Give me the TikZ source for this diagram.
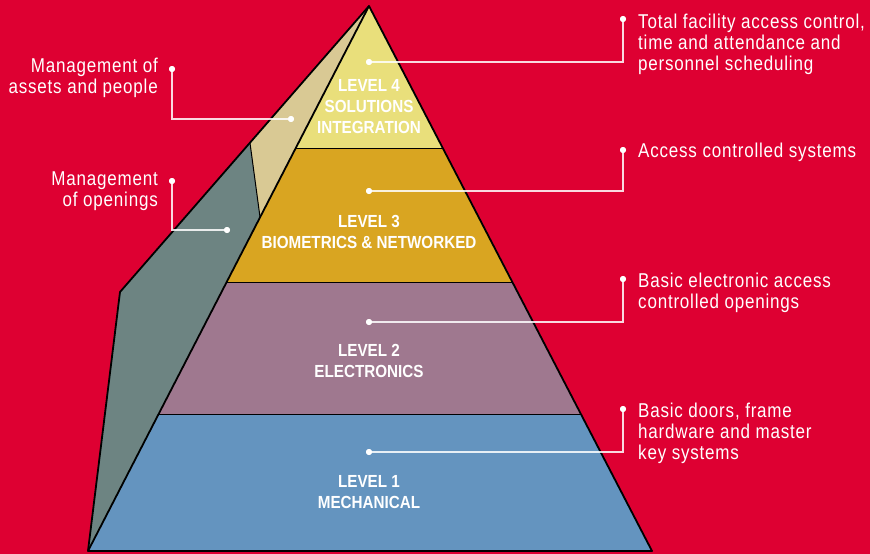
\documentclass[tikz,border=0pt]{standalone}
\usepackage{fontspec}
\setmainfont{Liberation Sans}
\newfontfamily\condfont[FakeStretch=0.85,LetterSpace=4]{Liberation Sans}
\newfontfamily\condbfont[FakeStretch=0.87]{Liberation Sans Bold}
\definecolor{bgred}{HTML}{DE0032}
\definecolor{lvfour}{HTML}{E9DF7B}
\definecolor{lvthree}{HTML}{D9A521}
\definecolor{lvtwo}{HTML}{9F788F}
\definecolor{lvone}{HTML}{6494BF}
\definecolor{sidetan}{HTML}{D9C994}
\definecolor{sidegrey}{HTML}{6D8482}
\begin{document}
\begin{tikzpicture}[x=1pt,y=-1pt,
  outline/.style={draw=black, line width=1.8pt, line join=round},
  divider/.style={draw=black, line width=1pt},
  dot/.style={circle, fill=white, inner sep=0pt, minimum size=6pt},
  leader/.style={draw=white, draw opacity=0.85, line width=1.3pt},
  note/.style={text=white, font=\condfont\fontsize{20}{21}\selectfont, inner sep=0pt},
  lvl/.style={text=white, font=\condbfont\fontsize{17.5}{21}\selectfont, align=center, inner sep=0pt}]
\fill[bgred] (0,0) rectangle (870,554);
\useasboundingbox (0,0) rectangle (870,554);
% key points
\coordinate (apex) at (369,6);
\coordinate (bl) at (88,551);
\coordinate (br) at (652,551);
\coordinate (sk) at (120,292);
\coordinate (so) at (250,143);
\coordinate (si) at (260,217);
\coordinate (l4) at (296,148); \coordinate (r4) at (443,148);
\coordinate (l3) at (226,282); \coordinate (r3) at (513,282);
\coordinate (l2) at (158,414); \coordinate (r2) at (581,414);
% side face
\fill[sidetan] (apex) -- (so) -- (si) -- cycle;
\fill[sidegrey] (so) -- (sk) -- (bl) -- (si) -- cycle;
% front bands
\fill[lvfour] (apex) -- (r4) -- (l4) -- cycle;
\fill[lvthree] (l4) -- (r4) -- (r3) -- (l3) -- cycle;
\fill[lvtwo] (l3) -- (r3) -- (r2) -- (l2) -- cycle;
\fill[lvone] (l2) -- (r2) -- (br) -- (bl) -- cycle;
% dividers
\draw[divider] (so) -- (si);
\draw[divider] (l4) -- (r4);
\draw[divider] (l3) -- (r3);
\draw[divider] (l2) -- (r2);
% outlines
\draw[outline] (apex) -- (sk) -- (bl) -- (br) -- cycle;
\draw[outline] (apex) -- (bl);
% level labels
\node[lvl] (t4) at (369,107) {LEVEL 4\\SOLUTIONS\\INTEGRATION};
\node[lvl] (t3) at (369,232) {LEVEL 3\\BIOMETRICS \& NETWORKED};
\node[lvl] (t2) at (369,361) {LEVEL 2\\ELECTRONICS};
\node[lvl] (t1) at (369,492) {LEVEL 1\\MECHANICAL};
% dots
\node[dot] (a4) at (369,62) {};
\node[dot] (b4) at (623,19) {};
\node[dot] (a3) at (369,191) {};
\node[dot] (b3) at (623,150) {};
\node[dot] (a2) at (369,322) {};
\node[dot] (b2) at (623,279) {};
\node[dot] (a1) at (369,452) {};
\node[dot] (b1) at (623,409) {};
\node[dot] (ma) at (172,69) {};
\node[dot] (mb) at (291,119) {};
\node[dot] (oa) at (172,181) {};
\node[dot] (ob) at (227,230) {};
% leaders
\draw[leader] (a4.center) -| (b4.center);
\draw[leader] (a3.center) -| (b3.center);
\draw[leader] (a2.center) -| (b2.center);
\draw[leader] (a1.center) -| (b1.center);
\draw[leader] (ma.center) |- (mb.center);
\draw[leader] (oa.center) |- (ob.center);
% redraw dots on top
\foreach \n in {a4,b4,a3,b3,a2,b2,a1,b1,ma,mb,oa,ob} \fill[white] (\n) circle (3pt);
% notes
\node[note, anchor=north west, align=left] (n4) at (638,14) {Total facility access control,\\time and attendance and\\personnel scheduling};
\node[note, anchor=north west, align=left] (n3) at (638,143) {Access controlled systems};
\node[note, anchor=north west, align=left] (n2) at (638,273) {Basic electronic access\\controlled openings};
\node[note, anchor=north west, align=left] (n1) at (638,403) {Basic doors, frame\\hardware and master\\key systems};
\node[note, anchor=north east, align=right] (nm) at (158,58) {Management of\\assets and people};
\node[note, anchor=north east, align=right] (no) at (158,172) {Management\\of openings};
\end{tikzpicture}
\end{document}
